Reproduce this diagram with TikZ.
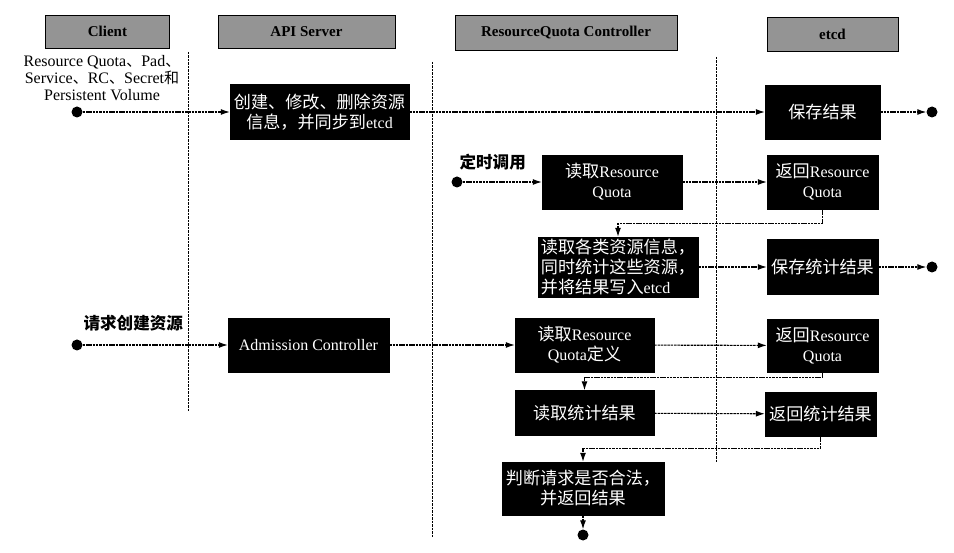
\documentclass[tikz,border=0pt]{standalone}
\usepackage{fontspec}
\setmainfont{Liberation Serif}
\newfontfamily\zhfont[Scale=1.07]{Noto Sans CJK SC}
\newfontfamily\zhplain[Scale=0.94]{Noto Sans CJK SC}
\newcommand{\zh}[1]{{\zhfont #1}}
\newcommand{\zp}[1]{{\zhplain #1}}
\usetikzlibrary{arrows.meta}
\begin{document}
\begin{tikzpicture}[x=1pt,y=-1pt,
    lane/.style={draw=black,fill=black!42,line width=0.9pt,minimum height=33pt,
      inner sep=0pt,font=\fontsize{15}{17}\selectfont\bfseries},
    task/.style={draw=black,fill=black,text=white,inner sep=2pt,align=center,
      font=\fontsize{16}{20}\selectfont},
    dot/.style={circle,fill=black,inner sep=0pt,minimum size=11pt},
    flow/.style={line width=1.1pt,dash pattern=on 2.5pt off 0.8pt,-{Latex[length=9pt,width=6pt]}},
    sep/.style={line width=1pt,dash pattern=on 2.5pt off 1pt}]
  \useasboundingbox (0,0) rectangle (954,553);
  % lanes
  \draw
    (107.5,31.5) node[lane,minimum width=124pt] (hclient){Client}
    (306.5,31.5) node[lane,minimum width=177pt] (hapi){API Server}
    (566,32.5) node[lane,minimum width=222pt,minimum height=35pt] (hrqc){ResourceQuota Controller}
    (832.5,34) node[lane,minimum width=131pt,minimum height=34pt] (hetcd){etcd};
  \draw[sep] (188,52) -- (188,412);
  \draw[sep] (432,62) -- (432,537);
  \draw[sep] (716,57) -- (716,462);
  % labels
  \draw
    (102,78) node[align=center,font=\fontsize{16}{17}\selectfont] (objs)
      {Resource Quota\zp{、}Pad\zp{、}\\Service\zp{、}RC\zp{、}Secret\zp{和}\\Persistent Volume}
    (456,162) node[anchor=west,font=\fontsize{15.5}{18}\selectfont\zhfont\bfseries] (timer){定时调用}
    (80,323) node[anchor=west,font=\fontsize{15.5}{18}\selectfont\zhfont\bfseries] (request){请求创建资源};
  % tasks
  \draw
    (319.5,112) node[task,minimum width=179pt,minimum height=55pt] (create)
      {\zh{创建、修改、删除资源}\\\zh{信息，并同步到}etcd}
    (822.5,112) node[task,minimum width=115pt,minimum height=54pt] (save){\zh{保存结果}}
    (612,182) node[task,minimum width=140pt,minimum height=54pt] (readrq){\zh{读取}Resource\\Quota}
    (822.5,182) node[task,minimum width=111pt,minimum height=54pt] (retrq){\zh{返回}Resource\\Quota}
    (618,267) node[task,minimum width=160pt,minimum height=58pt,align=left] (readall)
      {\zh{读取各类资源信息，}\\\zh{同时统计这些资源，}\\\zh{并将结果写入}etcd}
    (822.5,267) node[task,minimum width=111pt,minimum height=55pt] (savestat){\zh{保存统计结果}}
    (308.5,345) node[task,minimum width=161pt,minimum height=54pt] (admission){Admission Controller}
    (584.5,345) node[task,minimum width=139pt,minimum height=54pt] (readdef){\zh{读取}Resource\\Quota\zh{定义}}
    (822.5,345.5) node[task,minimum width=111pt,minimum height=53pt] (retrq2){\zh{返回}Resource\\Quota}
    (584.5,413) node[task,minimum width=139pt,minimum height=45pt] (readstat){\zh{读取统计结果}}
    (820.5,414) node[task,minimum width=111pt,minimum height=44pt] (retstat){\zh{返回统计结果}}
    (583,488.5) node[task,minimum width=162pt,minimum height=53pt] (judge)
      {\zh{判断请求是否合法，}\\\zh{并返回结果}};
  % start and end points
  \draw
    (77,112) node[dot] (d1){}
    (932,112) node[dot] (d2){}
    (457,182) node[dot] (d3){}
    (932,267) node[dot] (d4){}
    (77,345) node[dot] (d5){}
    (583,535) node[dot] (d6){};
  \begin{scope}[flow]
    \draw (d1) to (create);
    \draw (create) to (save);
    \draw (save) to (d2);
    \draw (d3) to (readrq);
    \draw (readrq) to (retrq);
    \draw (retrq.south) -- ++(0,14) -| (readall.north);
    \draw (readall) to (savestat);
    \draw (savestat) to (d4);
    \draw (d5) to (admission);
    \draw (admission) to (readdef);
    \draw (readdef) to (retrq2);
    \draw (retrq2.south) -- ++(0,5) -| (readstat.north);
    \draw (readstat) to (retstat);
    \draw (retstat.south) -- ++(0,12) -| (judge.north);
    \draw (judge) to (d6);
  \end{scope}
\end{tikzpicture}
\end{document}
